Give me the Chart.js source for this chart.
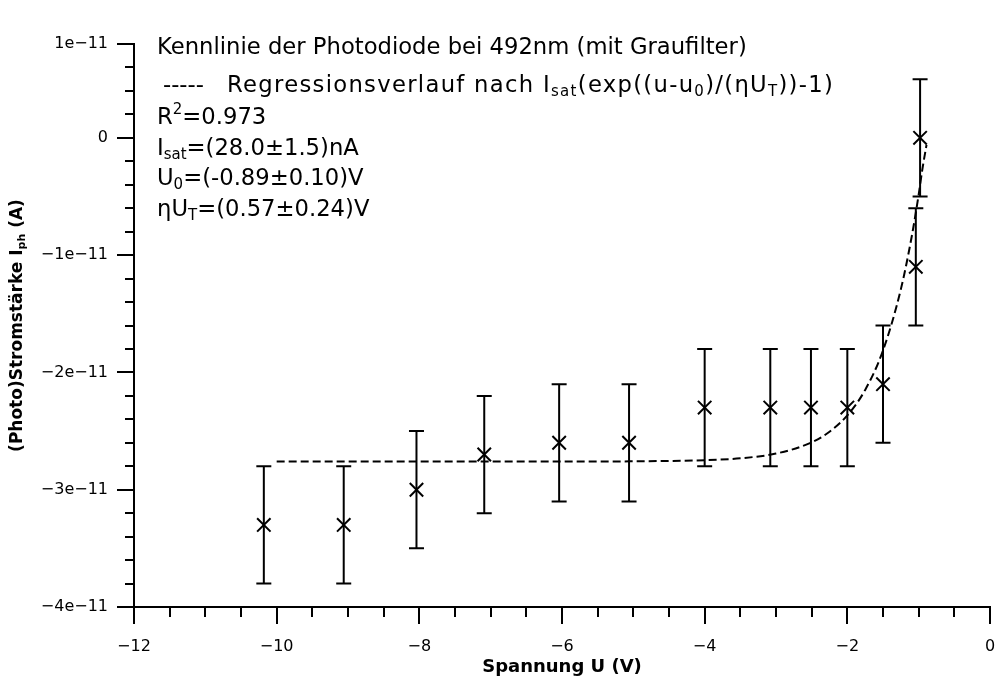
<!DOCTYPE html>
<html>
<head>
<meta charset="utf-8">
<script src="https://cdn.jsdelivr.net/npm/chart.js@4/dist/chart.umd.min.js"></script>
<style>
html,body{margin:0;padding:0;background:#fff;}
#wrap{width:997px;height:688px;position:relative;}
</style>
</head>
<body>
<div id="wrap"><canvas id="c" width="997" height="688"></canvas></div>
<script>
// ---- data ----
const voltage = [-10.18, -9.06, -8.04, -7.09, -6.04, -5.06, -4.0, -3.08, -2.51, -2.0, -1.5, -1.04, -0.98];
const current = [-3.3e-11, -3.3e-11, -3.0e-11, -2.7e-11, -2.6e-11, -2.6e-11, -2.3e-11, -2.3e-11, -2.3e-11, -2.3e-11, -2.1e-11, -1.1e-11, 0];
const currentErr = [0.5e-11, 0.5e-11, 0.5e-11, 0.5e-11, 0.5e-11, 0.5e-11, 0.5e-11, 0.5e-11, 0.5e-11, 0.5e-11, 0.5e-11, 0.5e-11, 0.5e-11];
const fitVoltage = [-10, -8, -6, -5, -4, -3.5, -3, -2.5, -2.25, -2, -1.75, -1.5, -1.25, -1.1, -1.0, -0.95, -0.89];
const fitCurrent = [-2.76e-11, -2.76e-11, -2.76e-11, -2.758e-11, -2.748e-11, -2.732e-11, -2.692e-11, -2.596e-11, -2.506e-11, -2.366e-11, -2.149e-11, -1.813e-11, -1.292e-11, -0.85e-11, -0.485e-11, -0.275e-11, -0.06e-11];
const xTickValues = [-12, -10, -8, -6, -4, -2, 0];
const xTickLabels = ['\u221212', '\u221210', '\u22128', '\u22126', '\u22124', '\u22122', '0'];
const yTickValues = [-4e-11, -3e-11, -2e-11, -1e-11, 0, 0.8e-11];
const yTickLabels = ['\u22124e\u221211', '\u22123e\u221211', '\u22122e\u221211', '\u22121e\u221211', '0', '1e\u221211'];
const xTitle = 'Spannung U (V)';
const legendDash = '-----';
const annotationLines = [
  [{t: 'Kennlinie der Photodiode bei 492nm (mit Graufilter)'}],
  [{t: 'Regressionsverlauf nach I'}, {t: 'sat', sub: true}, {t: '(exp((u-u'}, {t: '0', sub: true}, {t: ')/(\u03B7U'}, {t: 'T', sub: true}, {t: '))-1)'}],
  [{t: 'R'}, {t: '2', sup: true}, {t: '=0.973'}],
  [{t: 'I'}, {t: 'sat', sub: true}, {t: '=(28.0\u00B11.5)nA'}],
  [{t: 'U'}, {t: '0', sub: true}, {t: '=(-0.89\u00B10.10)V'}],
  [{t: '\u03B7U'}, {t: 'T', sub: true}, {t: '=(0.57\u00B10.24)V'}]
];
const yTitleParts = [{t: '(Photo)Stromst\u00E4rke I'}, {t: 'ph', sub: true}, {t: ' (A)'}];

const FONT = '"DejaVu Sans", Verdana, sans-serif';

function drawRich(ctx, x, y, parts, size, bold, subScale, spacing) {
  let cx = x;
  for (const p of parts) {
    const s = (p.sub || p.sup) ? Math.round(size * subScale) : size;
    ctx.font = (bold ? 'bold ' : '') + s + 'px ' + FONT;
    ctx.letterSpacing = (spacing || 0) + 'px';
    let dy = 0;
    if (p.sub) dy = size * 0.25;
    if (p.sup) dy = -size * 0.36;
    ctx.fillText(p.t, cx, y + dy);
    cx += ctx.measureText(p.t).width;
  }
  ctx.letterSpacing = '0px';
  return cx - x;
}
function richWidth(ctx, parts, size, bold, subScale) {
  let w = 0;
  for (const p of parts) {
    const s = (p.sub || p.sup) ? Math.round(size * subScale) : size;
    ctx.font = (bold ? 'bold ' : '') + s + 'px ' + FONT;
    w += ctx.measureText(p.t).width;
  }
  return w;
}

const decor = {
  id: 'decor',
  afterDatasetsDraw(chart) {
    const ctx = chart.ctx, xs = chart.scales.x, ys = chart.scales.y;
    ctx.save();
    ctx.strokeStyle = '#000';
    ctx.lineWidth = 2;
    // error bars
    for (let i = 0; i < voltage.length; i++) {
      const px = xs.getPixelForValue(voltage[i]);
      const t = ys.getPixelForValue(current[i] + currentErr[i]);
      const b = ys.getPixelForValue(current[i] - currentErr[i]);
      ctx.beginPath();
      ctx.moveTo(px, t); ctx.lineTo(px, b);
      ctx.moveTo(px - 7.5, t); ctx.lineTo(px + 7.5, t);
      ctx.moveTo(px - 7.5, b); ctx.lineTo(px + 7.5, b);
      ctx.stroke();
    }
    // axis ticks (major + minor)
    const ca = chart.chartArea;
    ctx.beginPath();
    const yStep = (yTickValues[1] - yTickValues[0]) / 5;
    const nY = Math.round((ys.max - ys.min) / yStep);
    for (let i = 0; i <= nY; i++) {
      const v = ys.min + i * yStep;
      const py = Math.round(ys.getPixelForValue(v));
      const len = (i % 5 === 0 || i === nY) ? 17 : 9;
      ctx.moveTo(ca.left - len, py); ctx.lineTo(ca.left, py);
    }
    const xStep = (xTickValues[1] - xTickValues[0]) / 4;
    const nX = Math.round((xs.max - xs.min) / xStep);
    for (let i = 0; i <= nX; i++) {
      const v = xs.min + i * xStep;
      const px = Math.round(xs.getPixelForValue(v));
      const len = (i % 4 === 0) ? 17 : 10;
      ctx.moveTo(px, ca.bottom); ctx.lineTo(px, ca.bottom + len);
    }
    ctx.stroke();
    // annotation text
    ctx.fillStyle = '#000';
    ctx.textBaseline = 'middle';
    ctx.textAlign = 'left';
    const size = 22.7;
    const lineY = [48, 86, 118, 149, 179, 210];
    annotationLines.forEach((parts, k) => {
      if (k === 1) {
        ctx.font = size + 'px ' + FONT;
        ctx.fillText(legendDash, ca.left + 29, lineY[k]);
        drawRich(ctx, ca.left + 93, lineY[k], parts, size, false, 0.66, 1.3);
      } else {
        drawRich(ctx, ca.left + 23, lineY[k], parts, size, false, 0.66, 0);
      }
    });
    ctx.restore();
    // y axis title with subscript
    ctx.save();
    ctx.fillStyle = '#000';
    ctx.textBaseline = 'middle';
    ctx.translate(18, (ca.top + ca.bottom) / 2 + 0);
    ctx.rotate(-Math.PI / 2);
    const w = richWidth(ctx, yTitleParts, 17, true, 0.65);
    drawRich(ctx, -w / 2, 0, yTitleParts, 17, true, 0.65, 0);
    ctx.restore();
  }
};

new Chart(document.getElementById('c'), {
  type: 'scatter',
  data: {
    datasets: [
      {
        label: 'Messwerte',
        data: voltage.map((v, i) => ({x: v, y: current[i]})),
        pointStyle: 'crossRot',
        pointRadius: 9.5,
        pointBorderWidth: 2,
        borderColor: '#000',
        backgroundColor: '#000',
        showLine: false,
        order: 1
      },
      {
        label: 'Regression',
        data: fitVoltage.map((v, i) => ({x: v, y: fitCurrent[i]})),
        showLine: true,
        borderDash: [8, 4],
        borderWidth: 2,
        borderColor: '#000',
        pointRadius: 0,
        cubicInterpolationMode: 'monotone',
        order: 2
      }
    ]
  },
  options: {
    responsive: false,
    animation: false,
    devicePixelRatio: 1,
    layout: {autoPadding: false, padding: {left: 0, right: 7, top: 44, bottom: 0}},
    plugins: {legend: {display: false}, tooltip: {enabled: false}, title: {display: false}},
    scales: {
      x: {
        type: 'linear',
        min: -12, max: 0,
        afterBuildTicks: s => { s.ticks = xTickValues.map(v => ({value: v})); },
        afterFit: s => { s.height = 81; s.paddingLeft = 0; s.paddingRight = 0; },
        ticks: {
          callback: (v, i) => xTickLabels[i],
          color: '#000',
          font: {family: FONT, size: 16},
          padding: 30,
          maxRotation: 0,
          autoSkip: false
        },
        grid: {display: true, drawOnChartArea: false, drawTicks: false},
        border: {display: true, color: '#000', width: 2},
        title: {display: true, text: xTitle, color: '#000', font: {family: FONT, size: 18, weight: 'bold'}, padding: {top: 10, bottom: 10}}
      },
      y: {
        type: 'linear',
        min: -4e-11, max: 0.8e-11,
        afterBuildTicks: s => { s.ticks = yTickValues.map(v => ({value: v})); },
        afterFit: s => { s.width = 134; s.paddingTop = 0; s.paddingBottom = 0; },
        ticks: {
          callback: (v, i) => yTickLabels[i],
          color: '#000',
          font: {family: FONT, size: 16},
          padding: 26,
          autoSkip: false
        },
        grid: {display: true, drawOnChartArea: false, drawTicks: false},
        border: {display: true, color: '#000', width: 2}
      }
    }
  },
  plugins: [decor]
});
</script>
</body>
</html>
